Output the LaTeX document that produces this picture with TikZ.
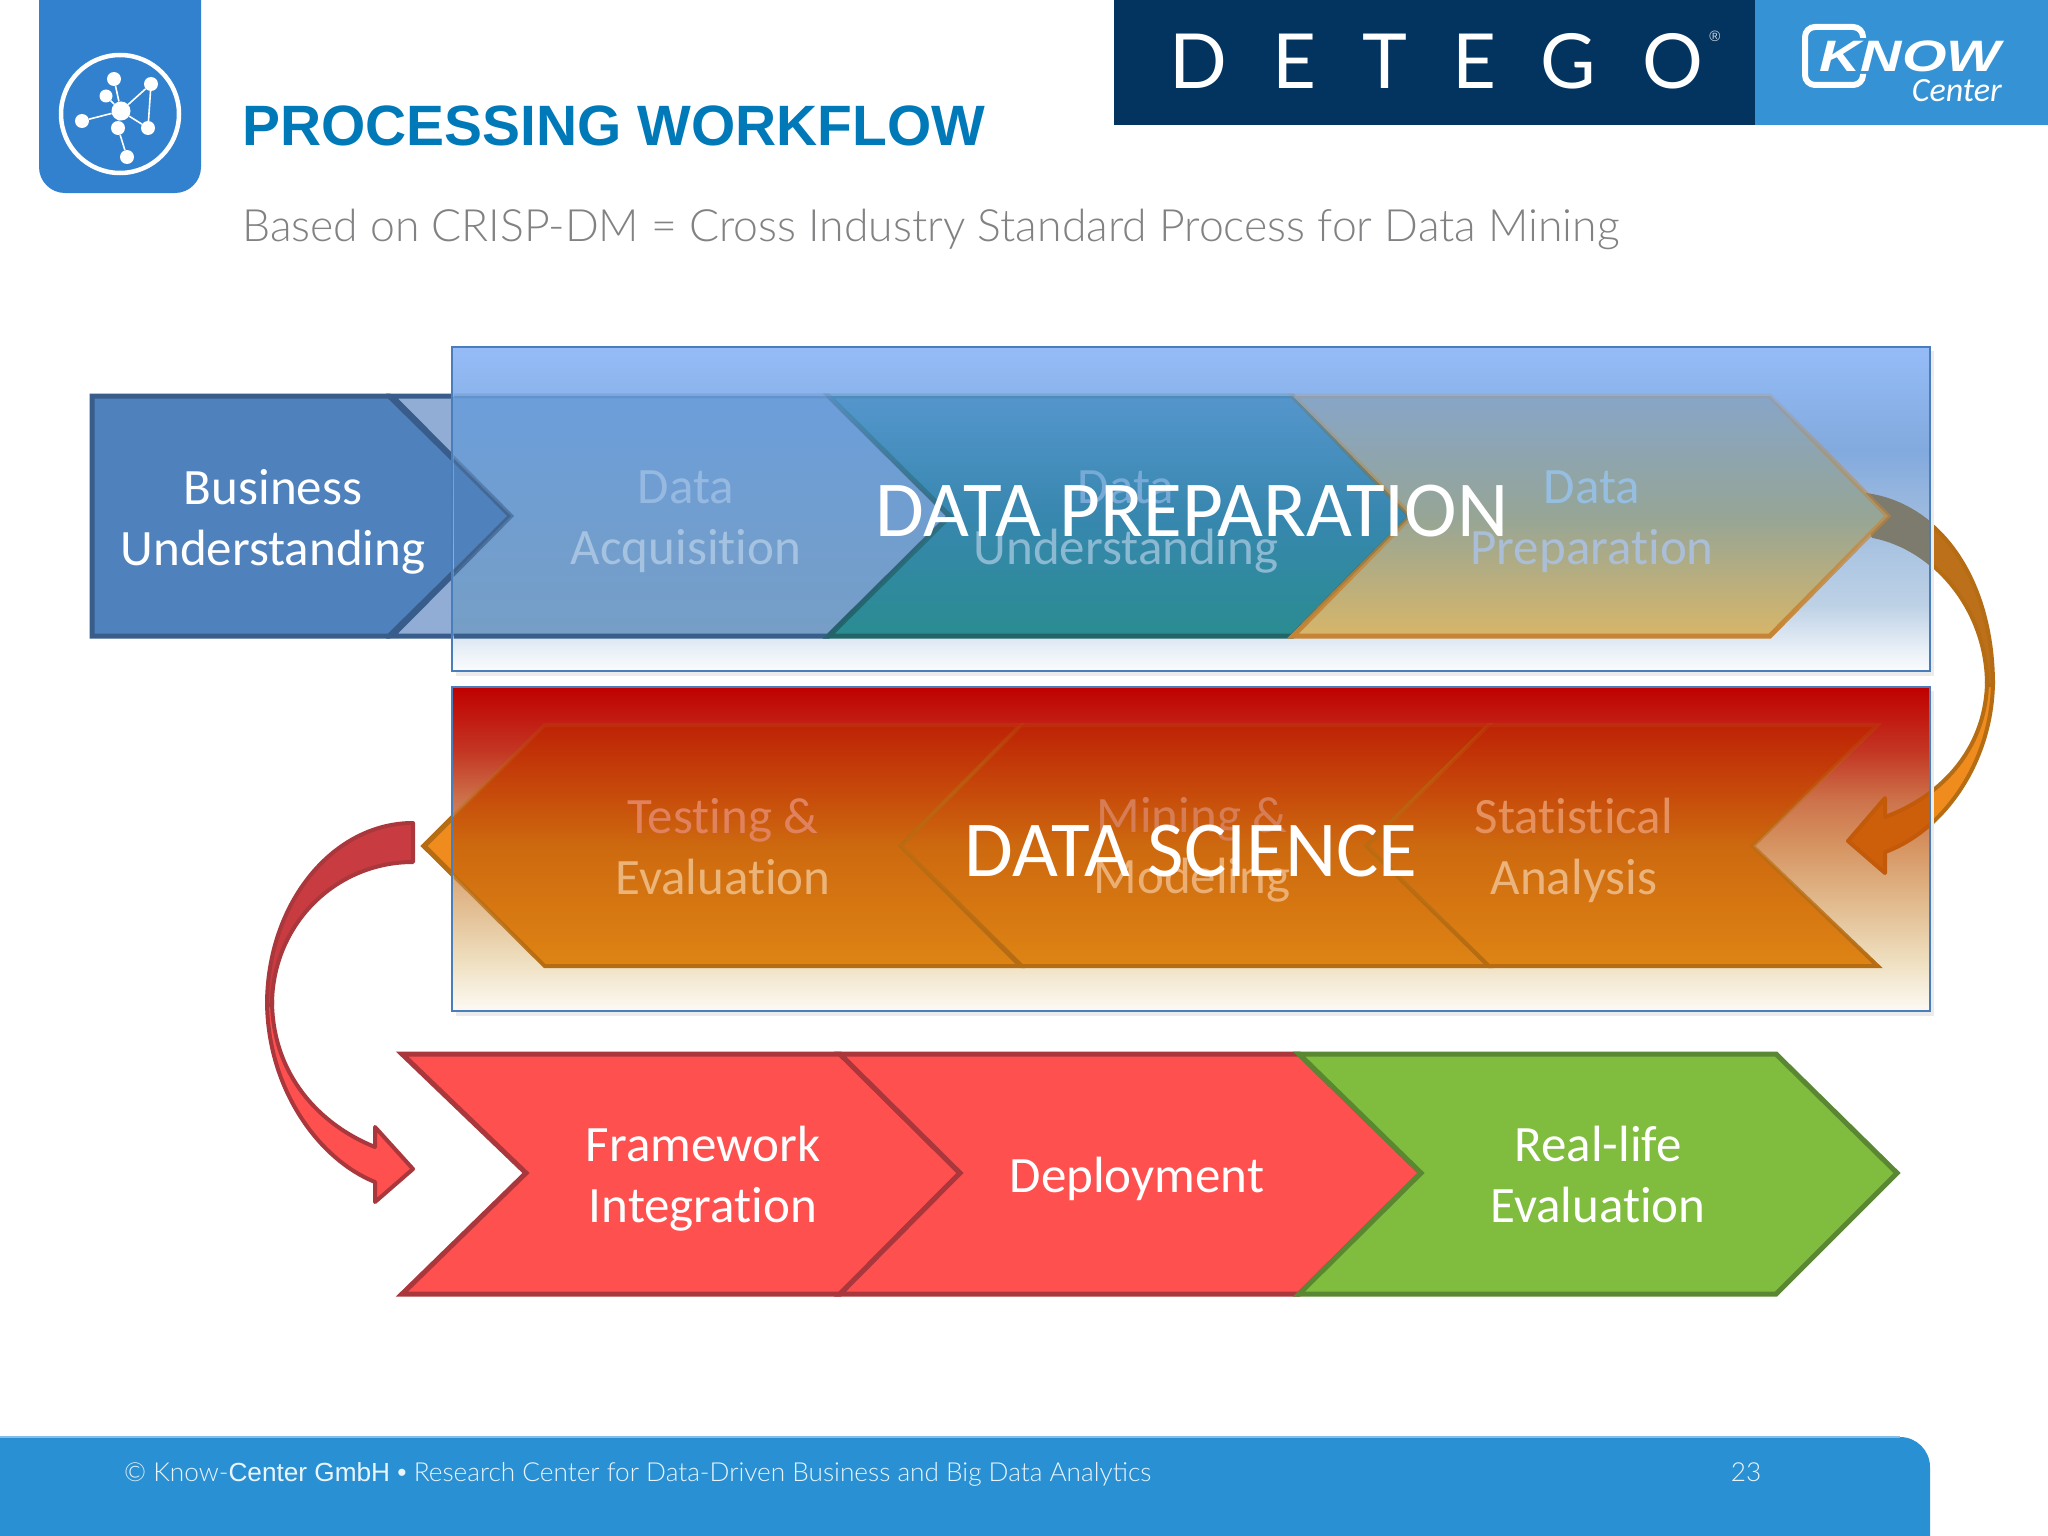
\documentclass[tikz,border=0pt]{standalone}
\usepackage{fontspec}
\setmainfont[Ligatures={NoCommon}]{Carlito}
\newfontfamily\helv{Liberation Sans}
\newfontfamily\lightf{Lato Light}
\newfontfamily\logof{Lato}
\usetikzlibrary{fadings}
% colours
\definecolor{iconblue}{RGB}{49,129,207}
\definecolor{titleblue}{RGB}{0,121,184}
\definecolor{subgray}{RGB}{130,130,132}
\definecolor{detegobg}{RGB}{3,51,95}
\definecolor{knowbg}{RGB}{53,146,212}
\definecolor{footbg}{RGB}{41,145,211}
\definecolor{footedge}{RGB}{130,190,230}
\definecolor{panelline}{RGB}{74,126,187}
\definecolor{bizfill}{RGB}{79,129,189}
\definecolor{bizline}{RGB}{56,93,138}
\definecolor{acqfill}{RGB}{146,173,213}
\definecolor{redfill}{RGB}{255,80,80}
\definecolor{redline}{RGB}{170,55,60}
\definecolor{redfold}{RGB}{200,60,65}
\definecolor{greenfill}{RGB}{128,188,62}
\definecolor{greenline}{RGB}{90,135,50}
\definecolor{orfill}{RGB}{240,140,30}
\definecolor{orline}{RGB}{182,108,18}
\definecolor{orfold}{RGB}{188,112,26}
\definecolor{arrowgrey}{RGB}{125,122,110}
\definecolor{arrowdeep}{RGB}{205,95,10}
\definecolor{arrowdeepline}{RGB}{195,90,10}
\definecolor{undline}{RGB}{35,100,105}
\definecolor{prepline}{RGB}{198,132,52}
% TikZ maps 25bp..75bp of a declared shading onto the bounding box of the path
% blue panel
\definecolor{pb0}{RGB}{250,252,253}\definecolor{pb1}{RGB}{238,243,249}\definecolor{pb2}{RGB}{190,210,230}
\definecolor{pb3}{RGB}{155,185,222}\definecolor{pb4}{RGB}{130,170,222}\definecolor{pb5}{RGB}{149,188,247}
\pgfdeclareverticalshading{panelblue}{100bp}{color(0bp)=(pb0); color(25bp)=(pb0); color(27.5bp)=(pb1); color(35bp)=(pb2); color(50bp)=(pb3); color(59bp)=(pb4); color(75bp)=(pb5); color(100bp)=(pb5)}
% red panel
\definecolor{pr0}{RGB}{253,250,244}\definecolor{pr1}{RGB}{238,222,190}\definecolor{pr2}{RGB}{225,185,140}
\definecolor{pr3}{RGB}{215,150,100}\definecolor{pr4}{RGB}{205,115,75}\definecolor{pr5}{RGB}{195,55,35}\definecolor{pr6}{RGB}{192,0,0}
\pgfdeclareverticalshading{panelred}{100bp}{color(0bp)=(pr0); color(25bp)=(pr0); color(33bp)=(pr1); color(42bp)=(pr2); color(50bp)=(pr3); color(57.5bp)=(pr4); color(65bp)=(pr5); color(75bp)=(pr6); color(100bp)=(pr6)}
% chevrons seen through the panels
\definecolor{ca0}{RGB}{118,158,198}\definecolor{ca1}{RGB}{108,158,218}
\pgfdeclareverticalshading{shadeacq}{100bp}{color(0bp)=(ca0); color(25bp)=(ca0); color(75bp)=(ca1); color(100bp)=(ca1)}
\definecolor{cu0}{RGB}{42,140,145}\definecolor{cu1}{RGB}{55,135,175}\definecolor{cu2}{RGB}{85,150,205}
\pgfdeclareverticalshading{shadeund}{100bp}{color(0bp)=(cu0); color(25bp)=(cu0); color(50bp)=(cu1); color(75bp)=(cu2); color(100bp)=(cu2)}
\definecolor{cp0}{RGB}{215,182,105}\definecolor{cp1}{RGB}{150,165,150}\definecolor{cp2}{RGB}{135,165,200}
\pgfdeclareverticalshading{shadeprep}{100bp}{color(0bp)=(cp0); color(25bp)=(cp0); color(50bp)=(cp1); color(75bp)=(cp2); color(100bp)=(cp2)}
\definecolor{cs0}{RGB}{222,132,20}\definecolor{cs1}{RGB}{205,105,15}\definecolor{cs2}{RGB}{190,35,5}
\pgfdeclareverticalshading{shadesci}{100bp}{color(0bp)=(cs0); color(25bp)=(cs0); color(50bp)=(cs1); color(75bp)=(cs2); color(100bp)=(cs2)}
\tikzfading[name=stroketop, top color=transparent!85, bottom color=transparent!0]
% chevron outline: left, notch, shoulder, tip, ytop, ybottom, ymid
\newcommand{\chv}[7]{(#1,#5) -- (#3,#5) -- (#4,#7) -- (#3,#6) -- (#1,#6) -- (#2,#7) -- cycle}
\newcommand{\redupper}{(413,823) .. controls (333,823) and (267,903) .. (267,1005) -- (272,1005) .. controls (272,925) and (335,862) .. (413,862) -- cycle}
\newcommand{\redlower}{(267,1000) .. controls (267,1090) and (320,1160) .. (375,1182) -- (375,1202) -- (413,1169) -- (375,1127) -- (375,1147) .. controls (320,1125) and (272,1075) .. (272,1000) -- cycle}
\newcommand{\orupper}{(1866,495) .. controls (1940,505) and (1993,580) .. (1993,685) -- (1987,685) .. controls (1987,610) and (1935,548) .. (1873,536) -- cycle}
\newcommand{\orlower}{(1993,680) .. controls (1993,760) and (1945,830) .. (1885,852) -- (1885,873) -- (1848,841) -- (1885,798) -- (1885,817) .. controls (1945,795) and (1987,745) .. (1987,680) -- cycle}
\tikzset{
  x=1pt,y=-1pt,
  bodytext/.style={font=\fontsize{51}{61}\selectfont,align=center,inner sep=0pt,text=white},
  bigtext/.style={font=\fontsize{79.3}{84}\selectfont,inner sep=0pt,text=white},
  paneledge/.style={draw=panelline,line width=1.8pt},
  chevedge/.style={line width=5pt,line join=miter},
  arrowedge/.style={line width=4pt,line join=round},
  netnode/.style={circle,fill=white,inner sep=0pt,minimum size=#1},
  netlink/.style={draw=white,line width=1.6pt},
}
\begin{document}
\begin{tikzpicture}
\useasboundingbox (0,0) rectangle (2048,1536);
\fill[white] (0,0) rectangle (2048,1536);
% ---- header icon
\begin{scope}
\clip (0,0) rectangle (2048,1536);
\fill[iconblue,rounded corners=26pt] (39,-40) rectangle (201,193);
\end{scope}
\node[draw=white,line width=4.5pt,circle,minimum size=118pt,inner sep=0pt] (ring) at (120,114) {};
\node[netnode=19pt] (hub) at (121,111) {};
\node[netnode=14pt] (n1) at (114,79) {};
\node[netnode=14pt] (n2) at (151,84) {};
\node[netnode=13pt] (n3) at (106,96) {};
\node[netnode=14pt] (n4) at (82,121) {};
\node[netnode=14pt] (n5) at (148,128) {};
\node[netnode=14pt] (n6) at (118,128) {};
\node[netnode=14pt] (n7) at (127,157) {};
\draw[netlink] (hub)--(n1) (hub)--(n2) (hub)--(n3) (hub)--(n4) (hub)--(n5) (hub)--(n6) (n6)--(n7) (n2)--(n5);
% ---- header text
\node[anchor=base west,inner sep=0pt,text=titleblue,font=\helv\bfseries\fontsize{56.9}{60}\selectfont] (title) at (242,146) {PROCESSING WORKFLOW};
\node[anchor=base west,inner sep=0pt,text=subgray,font=\lightf\fontsize{44.55}{50}\selectfont] (subtitle) at (242,241) {Based on CRISP-DM = Cross Industry Standard Process for Data Mining};
% ---- logos
\fill[detegobg] (1114,0) rectangle (1755,125);
\fill[knowbg] (1755,0) rectangle (2048,125);
\node[anchor=base,inner sep=0pt,text=white,font=\logof\fontsize{76}{80}\selectfont] (detego) at (1436,89) {\addfontfeature{LetterSpace=60}DETEGO};
\node[inner sep=0pt,text=white!80!detegobg,font=\helv\fontsize{15}{16}\selectfont] (reg) at (1715,36) {®};
\draw[white,line width=6pt,rounded corners=10pt] (1863,38) -- (1863,27) -- (1805,27) -- (1805,85) -- (1863,85) -- (1863,74);
\node[anchor=base east,inner sep=0pt,text=white,xscale=1.3,font=\helv\bfseries\itshape\fontsize{44}{46}\selectfont] (know) at (2001,72) {KNOW};
\node[anchor=base east,inner sep=0pt,text=white,font=\itshape\fontsize{34}{36}\selectfont] (center) at (2002,102) {Center};
% ---- connectors outside the panels
\begin{scope}[arrowedge,draw=redline]
\draw[fill=redfill] \redlower;
\draw[fill=redfold] \redupper;
\end{scope}
\begin{scope}[arrowedge,draw=orline]
\draw[fill=orfill] \orlower;
\draw[fill=orfold] \orupper;
\end{scope}
% ---- chevrons that stick out to the left of the panels
\draw[chevedge,draw=bizline,fill=acqfill] \chv{392}{511}{829}{950}{396}{636}{516};
\draw[chevedge,draw=bizline,fill=bizfill] \chv{92}{92}{389}{511}{396}{636}{516};
\draw[chevedge,draw=orline,fill=orfill] \chv{1021}{901}{545}{424}{725}{966}{846};
% ---- panel shadows and panels
\fill[black!8] (456,351) rectangle (1934,676);
\fill[black!8] (456,691) rectangle (1934,1016);
\shade[shading=panelblue] (452,347) rectangle (1930,671);
\draw[paneledge] (452,347) rectangle (1930,671);
\shade[shading=panelred] (452,687) rectangle (1930,1011);
\draw[paneledge] (452,687) rectangle (1930,1011);
% ---- connector parts seen through the panels
\begin{scope}
\clip (1000,349) rectangle (1929,670);
\draw[arrowedge,fill=arrowgrey,draw=arrowgrey] \orupper;
\end{scope}
\begin{scope}
\clip (1000,689) rectangle (1929,1010);
\draw[arrowedge,fill=arrowdeep,draw=arrowdeepline] \orlower;
\end{scope}
% ---- first row, seen through the panel
\begin{scope}
\clip (453.5,340) rectangle (1928,670);
\draw[chevedge,draw=bizline!75!pb3,fill=bizfill] \chv{92}{92}{389}{511}{396}{636}{516};
\shade[shading=shadeacq] \chv{392}{511}{829}{950}{396}{636}{516};
\draw[chevedge,draw=bizline,path fading=stroketop] \chv{392}{511}{829}{950}{396}{636}{516};
\end{scope}
\shade[shading=shadeund] \chv{829}{950}{1293}{1411}{396}{636}{516};
\draw[chevedge,draw=undline,path fading=stroketop] \chv{829}{950}{1293}{1411}{396}{636}{516};
\shade[shading=shadeprep] \chv{1293}{1411}{1770}{1888}{396}{636}{516};
\draw[chevedge,draw=prepline,path fading=stroketop] \chv{1293}{1411}{1770}{1888}{396}{636}{516};
% ---- second row, seen through the panel
\begin{scope}
\clip (453.5,690) rectangle (1928,1010);
\shade[shading=shadesci] \chv{1021}{901}{545}{424}{725}{966}{846};
\draw[chevedge,line width=4pt,draw=orline,path fading=stroketop] \chv{1021}{901}{545}{424}{725}{966}{846};
\end{scope}
\shade[shading=shadesci] \chv{1489}{1367}{1022}{901}{725}{966}{846};
\draw[chevedge,line width=4pt,draw=orline,path fading=stroketop] \chv{1489}{1367}{1022}{901}{725}{966}{846};
\shade[shading=shadesci] \chv{1878}{1753}{1489}{1367}{725}{966}{846};
\draw[chevedge,line width=4pt,draw=orline,path fading=stroketop] \chv{1878}{1753}{1489}{1367}{725}{966}{846};
% ---- third row
\draw[chevedge,draw=redline,fill=redfill] \chv{402}{526}{840}{960}{1054}{1294}{1173};
\draw[chevedge,draw=redline,fill=redfill] \chv{840}{960}{1299}{1421}{1054}{1294}{1173};
\draw[chevedge,draw=greenline,fill=greenfill] \chv{1299}{1421}{1776}{1897}{1054}{1294}{1173};
% ---- chevron labels
\node[bodytext] (business) at (273,522) {Business\\Understanding};
\node[bodytext] (acq) at (686,522) {\textcolor[RGB]{150,185,225}{Data}\\\textcolor[RGB]{165,195,225}{Acquisition}};
\node[bodytext] (und) at (1126,522) {\textcolor[RGB]{120,170,215}{Data}\\\textcolor[RGB]{140,185,210}{Understanding}};
\node[bodytext] (prep) at (1592,522) {\textcolor[RGB]{150,190,225}{Data}\\\textcolor[RGB]{170,190,215}{Preparation}};
\node[bodytext] (testing) at (723,847) {\textcolor[RGB]{225,130,95}{Testing \&}\\\textcolor[RGB]{235,180,120}{Evaluation}};
\node[bodytext] (mining) at (1192,850) {\textcolor[RGB]{215,125,85}{Mining \&}\\\textcolor[RGB]{235,175,115}{Modeling}};
\node[bodytext] (stat) at (1574,850) {\textcolor[RGB]{228,145,95}{Statistical}\\\textcolor[RGB]{235,180,125}{Analysis}};
\node[bodytext] (framework) at (703,1179) {Framework\\Integration};
\node[bodytext] (deploy) at (1137,1179) {Deployment};
\node[bodytext] (real) at (1598,1174) {Real-life\\Evaluation};
\node[bigtext] (dp) at (1192,511) {DATA PREPARATION};
\node[bigtext] (ds) at (1191,851) {DATA SCIENCE};
% ---- footer
\begin{scope}
\clip (0,0) rectangle (2048,1536);
\fill[footbg,rounded corners=30pt] (-60,1437) rectangle (1930,1600);
\end{scope}
\draw[footedge,line width=1.5pt] (0,1437) -- (1900,1437);
\node[anchor=base west,inner sep=0pt,text=white!90!footbg,font=\lightf\fontsize{26.2}{30}\selectfont] (foot) at (124,1481) {© Know-{\helv Center GmbH •} Research Center for Data-Driven Business and Big Data Analytics};
\node[anchor=base,inner sep=0pt,text=white!90!footbg,font=\lightf\fontsize{26.2}{30}\selectfont] (page) at (1746,1481) {23};
\end{tikzpicture}
\end{document}
